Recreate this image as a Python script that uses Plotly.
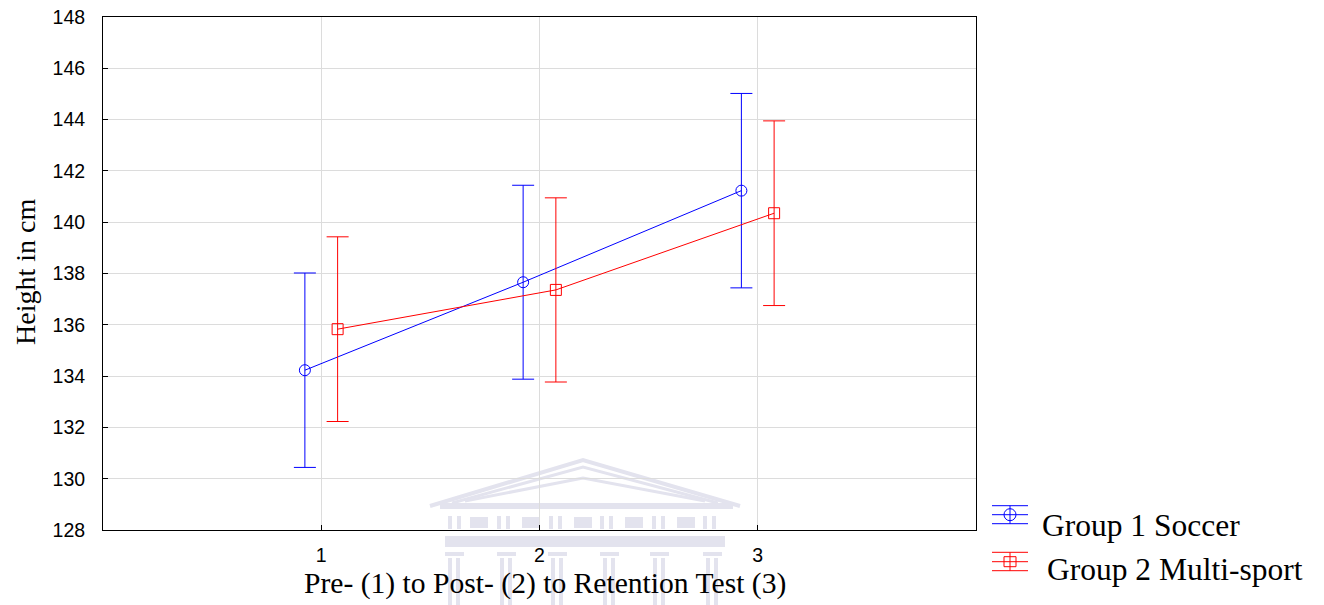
import plotly.graph_objects as go

# ---- data ----
tests = [1, 2, 3]
g1_name = "Group 1 Soccer"
g2_name = "Group 2 Multi-sport"
g1_mean = [134.23, 137.66, 141.23]
g1_err = [3.79, 3.78, 3.79]
g2_mean = [135.83, 137.36, 140.35]
g2_err = [3.60, 3.59, 3.60]
y_ticks = [128, 130, 132, 134, 136, 138, 140, 142, 144, 146, 148]
x_title = "Pre- (1) to Post- (2) to Retention Test (3)"
y_title = "Height in cm"

W, H = 1324, 605
L, R, T, B = 103, 348, 17, 75
PW, PH = W - L - R, H - T - B
OFF = 0.075
BLUE, RED = "#0000ff", "#ff0000"
SERIF = "Liberation Serif, Times New Roman, serif"
SANS = "Liberation Sans, Arial, sans-serif"


def px(x, y):
    return (x - L) / PW, (H - B - y) / PH


fig = go.Figure()
for name, mean, err, col, sym, sign in [
    (g1_name, g1_mean, g1_err, BLUE, "circle-open", -1),
    (g2_name, g2_mean, g2_err, RED, "square-open", 1),
]:
    fig.add_trace(go.Scatter(
        x=[t + sign * OFF for t in tests], y=mean, name=name,
        mode="lines+markers",
        line=dict(color=col, width=1),
        marker=dict(symbol=sym, size=11, color=col, line=dict(width=1, color=col)),
        error_y=dict(type="data", array=err, visible=True, color=col, thickness=1, width=11),
        showlegend=False,
    ))

shapes = []
wm = "#e3e3ee"
# watermark (faint building logo)
def wpath(pts, width=5):
    s = ""
    for i, (x, y) in enumerate(pts):
        a, b = px(x, y)
        s += ("M" if i == 0 else "L") + f"{a:.5f},{b:.5f} "
    return dict(type="path", path=s, xref="paper", yref="paper",
                line=dict(color=wm, width=width), layer="below")

def wrect(x0, y0, x1, y1):
    a0, b0 = px(x0, y0)
    a1, b1 = px(x1, y1)
    return dict(type="rect", x0=a0, x1=a1, y0=b0, y1=b1, xref="paper", yref="paper",
                line=dict(width=0), fillcolor=wm, layer="below")

shapes.append(wpath([(430, 506), (583, 460), (740, 506)], 4))
shapes.append(wpath([(452, 503), (583, 467), (718, 503)], 3))
shapes.append(wpath([(465, 501), (583, 478), (705, 501)], 3))
shapes.append(wrect(440, 503, 733, 509))
for x0 in [448, 497, 549, 600, 652, 703]:
    shapes.append(wrect(x0, 516, x0 + 4, 529))
    shapes.append(wrect(x0 + 9, 516, x0 + 13, 529))
for x0 in [470, 522, 574, 625, 677]:
    shapes.append(wrect(x0, 517, x0 + 18, 528))
shapes.append(wrect(445, 536, 725, 547))
for x0 in [445, 497, 548, 600, 650, 703]:
    shapes.append(wrect(x0, 552, x0 + 19, 556))
    shapes.append(wrect(x0 + 3, 558, x0 + 7, 605))
    shapes.append(wrect(x0 + 11, 558, x0 + 15, 605))

# manual legend
leg = [(g1_name, BLUE, "circle", 505.7, 514.7, 523.7, 1040, 525),
       (g2_name, RED, "rect", 552.3, 561.7, 570.7, 1045, 569)]
annotations = []
for name, col, sym, ytop, ymid, ybot, tx, ty in leg:
    for yy in (ytop, ymid, ybot):
        a0, b = px(992, yy)
        a1, _ = px(1028, yy)
        shapes.append(dict(type="line", x0=a0, x1=a1, y0=b, y1=b, xref="paper", yref="paper",
                           line=dict(color=col, width=1)))
    a, b0 = px(1010, ytop)
    _, b1 = px(1010, ybot)
    shapes.append(dict(type="line", x0=a, x1=a, y0=b0, y1=b1, xref="paper", yref="paper",
                       line=dict(color=col, width=1)))
    if sym == "circle":
        c0 = px(1004, ymid - 6); c1 = px(1016, ymid + 6)
    else:
        c0 = px(1004, ymid - 5); c1 = px(1016, ymid + 5)
    shapes.append(dict(type=sym, x0=c0[0], x1=c1[0], y0=c0[1], y1=c1[1],
                       xref="paper", yref="paper", line=dict(color=col, width=1),
                       fillcolor="rgba(0,0,0,0)"))
    ax, ay = px(tx, ty)
    annotations.append(dict(text=name, x=ax, y=ay, xref="paper", yref="paper",
                            xanchor="left", yanchor="middle", showarrow=False,
                            font=dict(family=SERIF, size=31.5, color="black")))

ax, ay = px(545, 584)
annotations.append(dict(text=x_title, x=ax, y=ay, xref="paper", yref="paper",
                        xanchor="center", yanchor="middle", showarrow=False,
                        font=dict(family=SERIF, size=29.6, color="black")))
ax, ay = px(25, 272)
annotations.append(dict(text=y_title, x=ax, y=ay, xref="paper", yref="paper",
                        xanchor="center", yanchor="middle", showarrow=False, textangle=-90,
                        font=dict(family=SERIF, size=28, color="black")))

fig.update_layout(
    template="none",
    width=W, height=H,
    margin=dict(l=L, r=R, t=T, b=B, pad=0, autoexpand=False),
    paper_bgcolor="white", plot_bgcolor="rgba(0,0,0,0)",
    shapes=shapes, annotations=annotations,
    showlegend=False,
)
fig.update_xaxes(
    range=[0, 4], tickvals=tests, ticktext=[str(t) for t in tests],
    automargin=False,
    showgrid=True, gridcolor="#dcdcdc", gridwidth=1, zeroline=False,
    showline=True, linecolor="black", linewidth=1, mirror=True,
    ticks="inside", ticklen=5, tickcolor="black",
    ticklabelstandoff=8,
    tickfont=dict(family=SANS, size=19.5, color="black"),
)
fig.update_yaxes(
    range=[128, 148], tickvals=y_ticks,
    automargin=False,
    showgrid=True, gridcolor="#dcdcdc", gridwidth=1, zeroline=False,
    showline=True, linecolor="black", linewidth=1, mirror=True,
    ticks="inside", ticklen=5, tickcolor="black",
    ticklabelstandoff=13,
    tickfont=dict(family=SANS, size=19.5, color="black"),
)
fig.write_html("out.html")
